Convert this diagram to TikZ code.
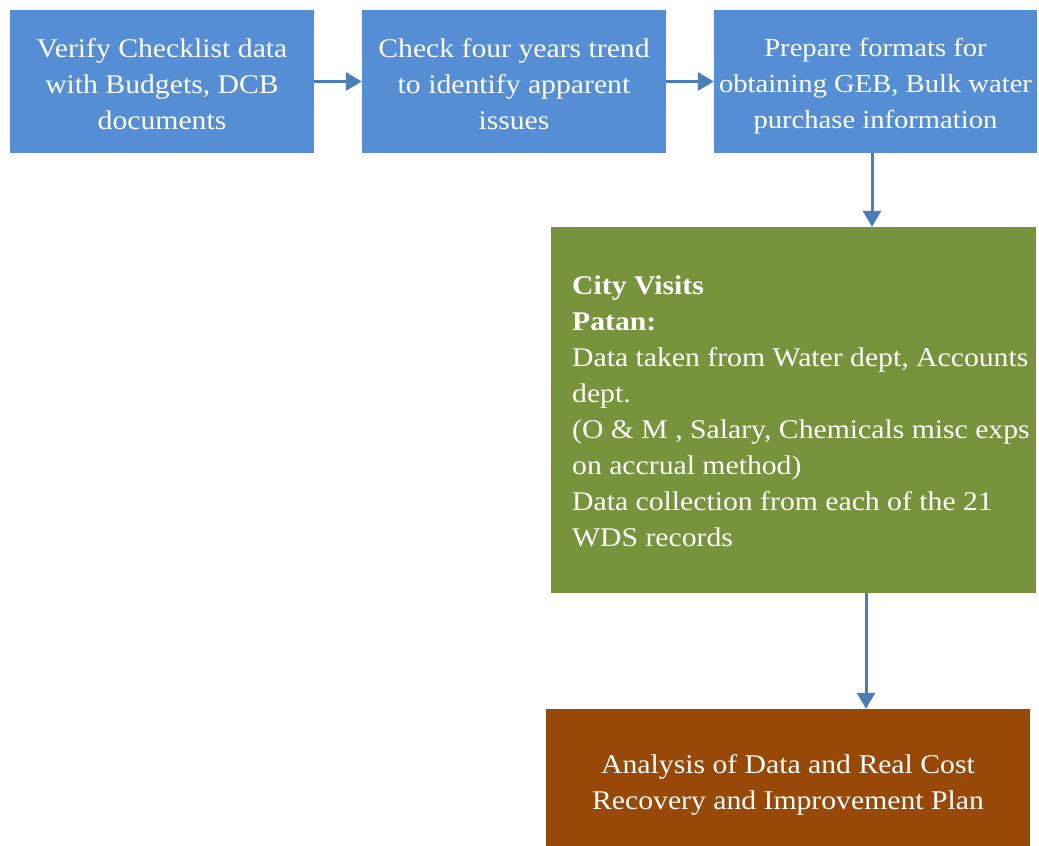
\documentclass[tikz,border=0pt]{standalone}
\usepackage{fontspec}
\setmainfont{Liberation Serif}[FakeStretch=1.1]
\usetikzlibrary{arrows.meta}
\definecolor{boxblue}{HTML}{558ED5}
\definecolor{boxgreen}{HTML}{77933C}
\definecolor{boxbrown}{HTML}{984807}
\definecolor{arrowblue}{HTML}{4A7EBB}
\tikzset{
  box/.style={fill=#1, draw=none, inner sep=0pt},
  label/.style={text=white, align=#1, inner sep=0pt, font=\fontsize{27}{36}\selectfont},
  label/.default=center,
  conn/.style={draw=arrowblue, line width=3pt, -{Triangle[length=16pt,width=18pt]}}
}
\begin{document}
\begin{tikzpicture}[x=1pt,y=-1pt]
\useasboundingbox (0,0) rectangle (1039,846);
\node[box=boxblue, minimum width=304pt, minimum height=143pt] (b1) at (162,81.5) {};
\node[box=boxblue, minimum width=304pt, minimum height=143pt] (b2) at (514,81.5) {};
\node[box=boxblue, minimum width=323pt, minimum height=143pt] (b3) at (875.5,81.5) {};
\node[box=boxgreen, minimum width=485pt, minimum height=366pt] (g) at (793.5,410) {};
\node[box=boxbrown, minimum width=484pt, minimum height=137pt] (r) at (788,777.5) {};
\node[label] (t1) at (162,84)
  {Verify Checklist data\\with Budgets, DCB\\documents};
\node[label] (t2) at (514,84)
  {Check four years trend\\to identify apparent\\issues};
\node[label, font=\fontsize{26}{36}\selectfont] (t3) at (875.5,86.5)
  {Prepare formats for\\obtaining GEB, Bulk water\\purchase information};
\node[label=left, anchor=west] (gt) at (572,411)
  {\textbf{City Visits}\\\textbf{Patan:}\\Data taken from Water dept, Accounts\\dept.\\(O \& M , Salary, Chemicals misc exps\\on accrual method)\\Data collection from each of the 21\\WDS records};
\node[label] (rt) at (788,785)
  {Analysis of Data and Real Cost\\Recovery and Improvement Plan};
\draw[conn] (b1.east) -- (b2.west);
\draw[conn] (b2.east) -- (b3.west);
\draw[conn] (b3.south -| 872,0) -- (g.north -| 872,0);
\draw[conn] (g.south -| 866,0) -- (r.north -| 866,0);
\end{tikzpicture}
\end{document}
